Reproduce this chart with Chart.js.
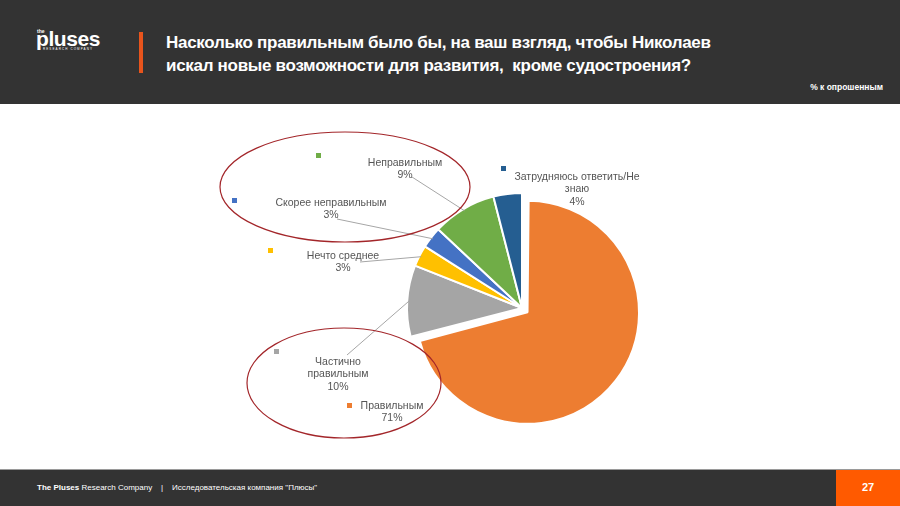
<!DOCTYPE html>
<html lang="ru">
<head>
<meta charset="utf-8">
<title>Pluses slide 27</title>
<script src="https://cdn.jsdelivr.net/npm/chart.js@4.4.1/dist/chart.umd.min.js"></script>
<style>
    html, body { margin: 0; padding: 0; }
    body { width: 900px; height: 506px; position: relative; overflow: hidden; background: #ffffff; font-family: "Liberation Sans", Arial, sans-serif; }
    .header { position: absolute; left: 0; top: 0; width: 900px; height: 104px; background: #333333; }
    .logo-the { position: absolute; left: 37px; top: 29px; font-size: 5px; font-weight: bold; color: #fff; line-height: 5px; }
    .logo-main { position: absolute; left: 36px; top: 28px; font-size: 21px; font-weight: bold; color: #fff; letter-spacing: -0.4px; line-height: 21px; }
    .logo-sub { position: absolute; left: 43px; top: 47px; font-size: 3px; color: #fff; letter-spacing: 1.1px; }
    .bar { position: absolute; left: 139px; top: 32px; width: 4px; height: 41px; background: #e8541c; }
    .title { position: absolute; left: 166px; top: 31px; font-size: 17px; font-weight: bold; color: #fff; line-height: 23px; letter-spacing: -0.3px; }
    .unit { position: absolute; right: 17px; top: 82px; font-size: 8.5px; font-weight: bold; color: #fff; }
    #chartBox { position: absolute; left: 0; top: 104px; width: 900px; height: 366px; }
    .footer { position: absolute; left: 0; top: 469px; width: 900px; height: 37px; background: #333333; border-top: 1px solid #9a9a9a; box-sizing: border-box; }
    .foot-text { position: absolute; left: 37px; top: 13px; font-size: 8px; color: #fff; }
    .page { position: absolute; right: 0; top: 0; width: 64px; height: 36px; background: #ff5a00; color: #fff; font-size: 11px; font-weight: bold; text-align: center; line-height: 34px; }
</style>
</head>
<body>
<div class="header">
    <div class="logo-the">the</div>
    <div class="logo-main">pluses</div>
    <div class="logo-sub">RESEARCH COMPANY</div>
    <div class="bar"></div>
    <div class="title">Насколько правильным было бы, на ваш взгляд, чтобы Николаев<br>искал новые возможности для развития,&nbsp; кроме судостроения?</div>
    <div class="unit">% к опрошенным</div>
</div>
<div id="chartBox"><canvas id="pieChart" width="900" height="366"></canvas></div>
<div class="footer">
    <div class="foot-text"><b>The Pluses</b> Research Company &nbsp; &nbsp;| &nbsp; &nbsp;Исследовательская компания "Плюсы"</div>
    <div class="page">27</div>
</div>
<script>
// data
const categories = ['Правильным', 'Частично правильным', 'Нечто среднее', 'Скорее неправильным', 'Неправильным', 'Затрудняюсь ответить/Не знаю'];
const values = [71, 10, 3, 3, 9, 4];
const sliceColors = ['#ed7d31', '#a5a5a5', '#ffc000', '#4472c4', '#70ad47', '#255e91'];

// label layout (page coords): text lines, centre x, first line y, key square, leader start
const labelLines = [
    ['Правильным', '71%'],
    ['Частично', 'правильным', '10%'],
    ['Нечто среднее', '3%'],
    ['Скорее неправильным', '3%'],
    ['Неправильным', '9%'],
    ['Затрудняюсь ответить/Не', 'знаю', '4%']
];
const labelX = [392, 338, 343, 331, 405, 577];
const labelY = [406, 362, 256, 203, 163, 177];
const keyPos = [[347, 403], [274, 349], [268, 248], [232, 198], [316, 153], [501, 166]];
const leaderFrom = [null, [347, 355], [360, 262], [337, 219], [412, 177], null];

const ellipses = [
    { cx: 345, cy: 187, rx: 125, ry: 55 },
    { cx: 344, cy: 383, rx: 97, ry: 55 }
];

const TOP = 104; // canvas top on the page

// exploded "Правильным" slice: Chart.js moves an arc by offset/4 and grows it by the same,
// so pull its radius back in to keep it the size it has on the slide
const explodePlugin = {
    id: 'explode',
    afterUpdate(chart) {
        const first = chart.getDatasetMeta(0).data[0];
        if (first) first.outerRadius -= 10.5;
    }
};

const labelsPlugin = {
    id: 'sliceLabels',
    afterDraw(chart) {
        const ctx = chart.ctx;
        const arcs = chart.getDatasetMeta(0).data;
        ctx.save();

        // leader lines
        ctx.strokeStyle = '#a6a6a6';
        ctx.lineWidth = 1;
        arcs.forEach((arc, i) => {
            if (!leaderFrom[i]) return;
            const p = arc.getProps(['x', 'y', 'startAngle', 'endAngle', 'outerRadius'], true);
            const mid = (p.startAngle + p.endAngle) / 2;
            const ex = p.x + Math.cos(mid) * (p.outerRadius - 2);
            const ey = p.y + Math.sin(mid) * (p.outerRadius - 2);
            ctx.beginPath();
            ctx.moveTo(leaderFrom[i][0], leaderFrom[i][1] - TOP);
            ctx.lineTo(ex, ey);
            ctx.stroke();
        });

        // key squares and text
        ctx.font = '10.5px "Liberation Sans", Arial, sans-serif';
        ctx.textAlign = 'center';
        ctx.textBaseline = 'middle';
        labelLines.forEach((lines, i) => {
            ctx.fillStyle = sliceColors[i];
            ctx.fillRect(keyPos[i][0], keyPos[i][1] - TOP, 5, 5);
            ctx.fillStyle = '#555555';
            lines.forEach((t, j) => {
                ctx.fillText(t, labelX[i], labelY[i] - TOP + j * 12.5);
            });
        });

        // red ellipses
        ctx.strokeStyle = '#a3262a';
        ctx.lineWidth = 1.2;
        ellipses.forEach(e => {
            ctx.beginPath();
            ctx.ellipse(e.cx, e.cy - TOP, e.rx, e.ry, 0, 0, Math.PI * 2);
            ctx.stroke();
        });
        ctx.restore();
    }
};

new Chart(document.getElementById('pieChart'), {
    type: 'pie',
    data: {
        labels: categories,
        datasets: [{
            data: values,
            backgroundColor: sliceColors,
            borderColor: '#ffffff',
            borderWidth: 2,
            offset: [28, 0, 0, 0, 0, 0],
            hoverOffset: 0,
            radius: 115
        }]
    },
    options: {
        responsive: false,
        animation: false,
        events: [],
        layout: { padding: { left: 144, top: 42, right: 0, bottom: 0 } },
        plugins: { legend: { display: false }, tooltip: { enabled: false } }
    },
    plugins: [explodePlugin, labelsPlugin]
});
</script>
</body>
</html>
